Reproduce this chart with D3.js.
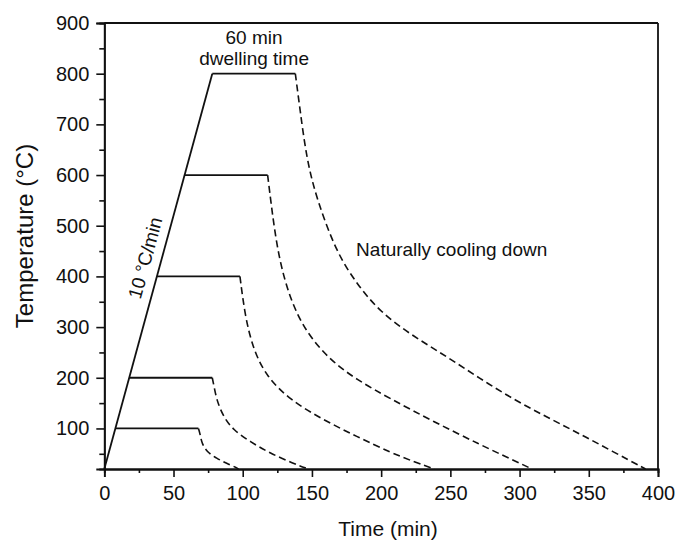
<!DOCTYPE html>
<html>
<head>
<meta charset="utf-8">
<script src="https://cdn.jsdelivr.net/npm/d3@7"></script>
<style>
  html, body { margin: 0; padding: 0; background: #fff; }
  svg { display: block; font-family: "Liberation Sans", Arial, Helvetica, sans-serif; }
</style>
</head>
<body>
<svg id="chart" width="678" height="541"></svg>
<script>
// ---------------- data ----------------
const xTicks = [0, 50, 100, 150, 200, 250, 300, 350, 400];
const yTicks = [100, 200, 300, 400, 500, 600, 700, 800, 900];

// heating ramp (10 °C/min)
const heatTime = [0, 78];
const heatTemp = [20, 800];

// dwelling plateaus (60 min)
const dwellTemp  = [100, 200, 400, 600, 800];
const dwellStart = [8, 18, 38, 58, 78];
const dwellEnd   = [68, 78, 98, 118, 138];

// natural cooling curves
const coolTime100 = [68, 69.1, 70.4, 74, 81.2, 88.4, 95.7, 97];
const coolTemp100 = [100, 90.5, 70.8, 54, 41, 31, 22.6, 20];

const coolTime200 = [78, 79.3, 81.2, 86, 93.2, 105.3, 119.7, 136.6, 147.4];
const coolTemp200 = [200, 182.6, 156, 123, 97, 74, 51, 31, 20];

const coolTime400 = [98, 101.7, 107.7, 117.3, 134.2, 158.2, 182.4, 206.4, 224, 238.5];
const coolTemp400 = [400, 321, 255, 202, 156, 117, 84, 53, 34, 20];

const coolTime600 = [118, 121, 125.7, 134.2, 146.2, 163.1, 182.4, 206.4, 237.5, 271.5, 295, 309];
const coolTemp600 = [600, 532, 440, 354, 288, 235, 196, 159, 114, 68, 38, 20];

const coolTime800 = [138, 141.4, 146.2, 153.5, 167.9, 183, 199.2, 223, 247.4, 271, 295.3, 320, 343.7, 367, 391];
const coolTemp800 = [800, 729, 631, 552, 446, 383, 330, 282, 242, 199, 158, 122, 89, 55, 20];

const coolTimes = [coolTime100, coolTime200, coolTime400, coolTime600, coolTime800];
const coolTemps = [coolTemp100, coolTemp200, coolTemp400, coolTemp600, coolTemp800];

// ---------------- layout ----------------
const svg = d3.select("#chart");
const L = 104.3, R = 658, T = 23, B = 469;
const ink = "#111";

const x = d3.scaleLinear().domain([0, 400]).range([L, R]);
const y = d3.scaleLinear().domain([20, 900]).range([B, T]);

// minor ticks
const xMinor = d3.range(25, 400, 50);
const yMinor = d3.range(50, 900, 100);

svg.append("g").attr("transform", `translate(0,${B})`)
  .call(d3.axisBottom(x).tickValues(xMinor).tickSize(4).tickFormat(""));
svg.append("g").attr("transform", `translate(0,${B})`)
  .call(d3.axisBottom(x).tickValues(xTicks).tickSize(8).tickPadding(9).tickFormat(d3.format("d")));

svg.append("g").attr("transform", `translate(${L},0)`)
  .call(d3.axisLeft(y).tickValues(yMinor).tickSize(5).tickFormat(""));
svg.append("g").attr("transform", `translate(${L},0)`)
  .call(d3.axisLeft(y).tickValues(yTicks).tickSize(8).tickPadding(7).tickFormat(d3.format("d")));

svg.selectAll(".domain").attr("stroke", ink).attr("stroke-width", 1.8);
svg.selectAll(".tick line").attr("stroke", ink).attr("stroke-width", 1.6);
svg.selectAll(".tick text").attr("fill", ink).style("font-size", "20px")
  .style("font-family", "'Liberation Sans', Arial, Helvetica, sans-serif");

// box top & right
svg.append("line").attr("x1", x(0)).attr("x2", x(400)).attr("y1", y(900)).attr("y2", y(900))
  .attr("stroke", ink).attr("stroke-width", 1.8);
svg.append("line").attr("x1", x(400)).attr("x2", x(400)).attr("y1", y(900)).attr("y2", y(20))
  .attr("stroke", ink).attr("stroke-width", 1.8);

// ---------------- marks ----------------
const line = d3.line().x(d => x(d[0])).y(d => y(d[1]));
const curve = d3.line().x(d => x(d[0])).y(d => y(d[1])).curve(d3.curveBasis);

svg.append("path")
  .attr("d", line(heatTime.map((t, i) => [t, heatTemp[i]])))
  .attr("fill", "none").attr("stroke", ink).attr("stroke-width", 1.8);

dwellTemp.forEach((temp, i) => {
  svg.append("path")
    .attr("d", line([[dwellStart[i], temp], [dwellEnd[i], temp]]))
    .attr("fill", "none").attr("stroke", ink).attr("stroke-width", 1.8);
});

coolTimes.forEach((times, i) => {
  const pts = times.map((t, j) => [t, coolTemps[i][j]]);
  svg.append("path")
    .attr("d", curve(pts))
    .attr("fill", "none").attr("stroke", ink).attr("stroke-width", 1.6)
    .attr("stroke-dasharray", "7,4");
});

// ---------------- text ----------------
const txt = (s, px, py, size, anchor) => svg.append("text")
  .attr("x", px).attr("y", py).attr("fill", ink)
  .attr("text-anchor", anchor || "start")
  .style("font-size", size + "px").text(s);

txt("60 min", x(108.2), y(858), 19, "middle");
txt("dwelling time", x(108.2), y(818), 19, "middle");
txt("Naturally cooling down", x(181.9), y(439.6), 19, "start");

// rotated ramp label, parallel to ramp
const ang = Math.atan2(y(heatTemp[1]) - y(heatTemp[0]), x(heatTime[1]) - x(heatTime[0])) * 180 / Math.PI;
svg.append("text")
  .attr("transform", `translate(${x(34.2)},${y(433)}) rotate(${ang})`)
  .attr("text-anchor", "middle").attr("fill", ink)
  .style("font-size", "19px").text("10 °C/min");

// axis titles
txt("Time (min)", 388, 536, 21, "middle");
svg.append("text")
  .attr("transform", `translate(33,236) rotate(-90)`)
  .attr("text-anchor", "middle").attr("fill", ink)
  .style("font-size", "24px").text("Temperature (°C)");
</script>
</body>
</html>
